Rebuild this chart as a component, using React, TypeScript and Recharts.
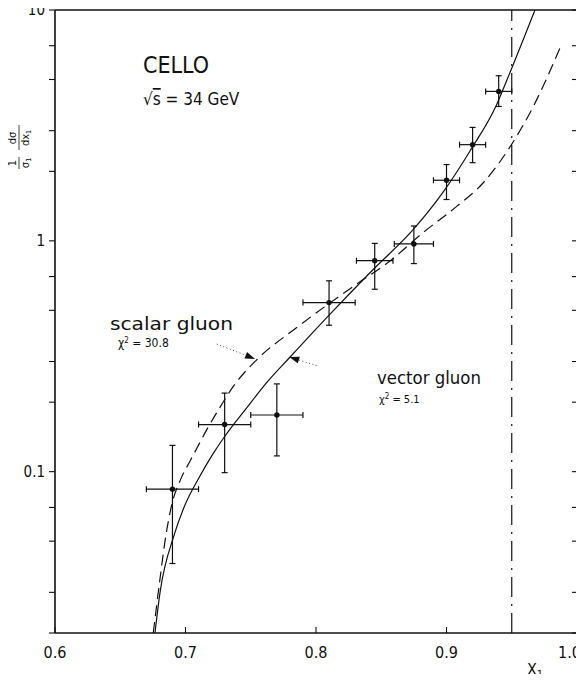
import {
  ComposedChart,
  Line,
  Scatter,
  ErrorBar,
  XAxis,
  YAxis,
  ReferenceLine,
} from 'recharts'

// measured points (x1, 1/sigma dsigma/dx1) with error bars
const pointX = [0.69, 0.73, 0.77, 0.81, 0.845, 0.875, 0.9, 0.92, 0.94]
const pointY = [0.084, 0.16, 0.176, 0.54, 0.82, 0.97, 1.83, 2.61, 4.44]
const pointYLow = [0.04, 0.099, 0.117, 0.431, 0.617, 0.797, 1.51, 2.18, 3.82]
const pointYHigh = [0.13, 0.219, 0.24, 0.671, 0.975, 1.16, 2.14, 3.1, 5.19]
const pointXHalf = [0.02, 0.02, 0.02, 0.02, 0.014, 0.015, 0.01, 0.01, 0.01]

// vector gluon (solid)
const vectorX = [
  0.6766, 0.6805, 0.6912, 0.6996, 0.7098, 0.7213, 0.73, 0.7469, 0.7622, 0.78,
  0.8095, 0.844, 0.8746, 0.8989, 0.918, 0.9385, 0.9474, 0.9678,
]
const vectorY = [
  0.02, 0.03, 0.053, 0.0717, 0.093, 0.12, 0.142, 0.189, 0.243, 0.313, 0.473,
  0.753, 1.12, 1.67, 2.45, 3.9, 5.15, 10,
]

// scalar gluon (dashed)
const scalarX = [
  0.6753, 0.6805, 0.6843, 0.6894, 0.6958, 0.7034, 0.7086, 0.716, 0.7264,
  0.7366, 0.7545, 0.785, 0.8286, 0.8567, 0.882, 0.9078, 0.928, 0.9474, 0.9665,
  0.988,
]
const scalarY = [
  0.02, 0.0345, 0.05, 0.0717, 0.0912, 0.111, 0.126, 0.151, 0.19, 0.234, 0.305,
  0.42, 0.635, 0.818, 1.085, 1.41, 1.78, 2.49, 3.82, 7.06,
]

const cutX = 0.95

const xTicks = [0.6, 0.7, 0.8, 0.9, 1.0]
const xTickLabels = ['0.6', '0.7', '0.8', '0.9', '1.0']
const topTicks = [0.7, 0.8, 0.9]
const yTicks = [
  0.02, 0.03, 0.04, 0.05, 0.06, 0.07, 0.08, 0.09, 0.1, 0.2, 0.3, 0.4, 0.5, 0.6,
  0.7, 0.8, 0.9, 1, 2, 3, 4, 5, 6, 7, 8, 9, 10,
]
const yLabelTicks = [0.1, 1, 10]
const yLabelText = ['0.1', '1', '10']

// annotation arrows: [from, to] in data coordinates
const scalarArrow = [
  { x: 0.7239, y: 0.357 },
  { x: 0.7533, y: 0.308 },
]
const vectorArrow = [
  { x: 0.8005, y: 0.288 },
  { x: 0.7795, y: 0.314 },
]

const points = pointX.map((x, i) => ({
  x,
  y: pointY[i],
  ex: pointXHalf[i],
  ey: [pointY[i] - pointYLow[i], pointYHigh[i] - pointY[i]],
}))
const vectorData = vectorX.map((x, i) => ({ x, y: vectorY[i] }))
const scalarData = scalarX.map((x, i) => ({ x, y: scalarY[i] }))

const FONT = '"DejaVu Sans Condensed", "DejaVu Sans", sans-serif'
const INK = '#111'
const frame = { stroke: INK, strokeWidth: 1.6 }

const LeftTick = ({ x, y, payload }: any) => {
  const i = yLabelTicks.indexOf(payload.value)
  return (
    <g>
      <line x1={x} x2={x - 6} y1={y} y2={y} stroke={INK} strokeWidth={1.1} />
      {i >= 0 && (
        <text x={x - 10} y={y} dy="0.36em" textAnchor="end" fontSize={15} fontFamily={FONT} fill={INK}>
          {yLabelText[i]}
        </text>
      )}
    </g>
  )
}

const RightTick = ({ x, y }: any) => (
  <line x1={x} x2={x - 5} y1={y} y2={y} stroke={INK} strokeWidth={1.1} />
)

const BottomTick = ({ x, y, payload }: any) => {
  const i = xTicks.indexOf(payload.value)
  const last = i === xTicks.length - 1
  return (
    <g>
      <line x1={x} x2={x} y1={y} y2={y - 6} stroke={INK} strokeWidth={1.1} />
      <text
        x={last ? x + 4 : x}
        y={y + 25}
        textAnchor={last ? 'end' : 'middle'}
        fontSize={16}
        fontFamily={FONT}
        fill={INK}
      >
        {xTickLabels[i]}
      </text>
    </g>
  )
}

const TopTick = ({ x, y }: any) => (
  <line x1={x} x2={x} y1={y} y2={y + 6} stroke={INK} strokeWidth={1.1} />
)

const Arrow = (p: any) => {
  const { x1, y1, x2, y2 } = p
  const a = Math.atan2(y2 - y1, x2 - x1)
  const len = 10
  const half = 3.5
  const bx = x2 - len * Math.cos(a)
  const by = y2 - len * Math.sin(a)
  const pts = `${x2},${y2} ${bx - half * Math.sin(a)},${by + half * Math.cos(a)} ${bx + half * Math.sin(a)},${by - half * Math.cos(a)}`
  return (
    <g>
      <line x1={x1} y1={y1} x2={bx} y2={by} stroke="#333" strokeWidth={0.9} strokeDasharray="1 2.5" />
      <polygon points={pts} fill={INK} />
    </g>
  )
}

const Dot = (p: any) => <circle cx={p.cx} cy={p.cy} r={2.7} fill={INK} />

export default function App() {
  return (
    <div style={{ position: 'relative', margin: -8, width: 584, height: 682, background: '#fff' }}>
      <ComposedChart
        width={584}
        height={682}
        margin={{ top: 9, right: 6, bottom: 0, left: 0 }}
      >
        <XAxis
          dataKey="x"
          type="number"
          domain={[0.6, 1.0]}
          allowDataOverflow
          ticks={xTicks}
          tick={<BottomTick />}
          tickLine={false}
          tickSize={0}
          tickMargin={0}
          height={49}
          axisLine={frame}
        />
        <XAxis
          xAxisId="t"
          orientation="top"
          type="number"
          domain={[0.6, 1.0]}
          allowDataOverflow
          ticks={topTicks}
          tick={<TopTick />}
          tickLine={false}
          tickSize={0}
          tickMargin={0}
          height={1}
          axisLine={frame}
        />
        <YAxis
          dataKey="y"
          scale="log"
          type="number"
          domain={[0.02, 10]}
          allowDataOverflow
          ticks={yTicks}
          tick={<LeftTick />}
          tickLine={false}
          tickSize={0}
          tickMargin={0}
          width={55}
          axisLine={frame}
        />
        <YAxis
          yAxisId="r"
          orientation="right"
          scale="log"
          type="number"
          domain={[0.02, 10]}
          allowDataOverflow
          ticks={yTicks}
          tick={<RightTick />}
          tickLine={false}
          tickSize={0}
          tickMargin={0}
          width={1}
          axisLine={frame}
        />
        <ReferenceLine
          x={cutX}
          stroke={INK}
          strokeWidth={1.2}
          strokeDasharray="20 7 2 7"
        />
        <ReferenceLine segment={scalarArrow} shape={<Arrow />} ifOverflow="visible" />
        <ReferenceLine segment={vectorArrow} shape={<Arrow />} ifOverflow="visible" />
        <Line
          data={vectorData}
          dataKey="y"
          type="monotone"
          stroke={INK}
          strokeWidth={1.2}
          dot={false}
          isAnimationActive={false}
        />
        <Line
          data={scalarData}
          dataKey="y"
          type="monotone"
          stroke={INK}
          strokeWidth={1.2}
          strokeDasharray="11 6"
          dot={false}
          isAnimationActive={false}
        />
        <Scatter data={points} dataKey="y" shape={<Dot />} isAnimationActive={false}>
          <ErrorBar dataKey="ex" direction="x" width={3} stroke={INK} strokeWidth={1.2} />
          <ErrorBar dataKey="ey" direction="y" width={3} stroke={INK} strokeWidth={1.2} />
        </Scatter>
      </ComposedChart>
      <svg
        width={584}
        height={682}
        style={{ position: 'absolute', left: 0, top: 0, pointerEvents: 'none' }}
        fontFamily={FONT}
        fill={INK}
      >
        <text x={143} y={73} fontSize={23} textLength={66} lengthAdjust="spacingAndGlyphs">
          CELLO
        </text>
        <text x={143} y={105} fontSize={17}>
          √<tspan textDecoration="overline">s</tspan> = 34 GeV
        </text>
        <text x={110} y={330} fontSize={17} textLength={123} lengthAdjust="spacingAndGlyphs">
          scalar gluon
        </text>
        <text x={118} y={347} fontSize={12}>
          χ<tspan dy={-4} fontSize={8}>2</tspan>
          <tspan dy={4}> = 30.8</tspan>
        </text>
        <text x={377} y={384} fontSize={17} textLength={104} lengthAdjust="spacingAndGlyphs">
          vector gluon
        </text>
        <text x={379} y={403} fontSize={11}>
          χ<tspan dy={-4} fontSize={8}>2</tspan>
          <tspan dy={4}> = 5.1</tspan>
        </text>
        <text x={527} y={675} fontSize={16}>
          X<tspan dy={3} fontSize={11}>1</tspan>
        </text>
        <g transform="translate(19 150) rotate(-90)" fontSize={11}>
          <text x={-13} y={-3} textAnchor="middle">1</text>
          <line x1={-19} x2={-7} y1={0} y2={0} stroke={INK} strokeWidth={0.8} />
          <text x={-13} y={10} textAnchor="middle">
            σ<tspan dy={2} fontSize={7}>1</tspan>
          </text>
          <text x={12} y={-3} textAnchor="middle">dσ</text>
          <line x1={0} x2={25} y1={0} y2={0} stroke={INK} strokeWidth={0.8} />
          <text x={12} y={10} textAnchor="middle">
            dx<tspan dy={2} fontSize={7}>1</tspan>
          </text>
        </g>
      </svg>
    </div>
  )
}
